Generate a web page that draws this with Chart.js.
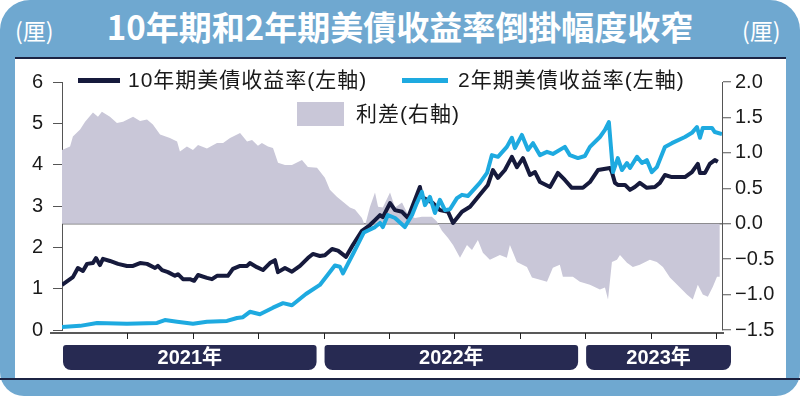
<!DOCTYPE html>
<html>
<head>
<meta charset="utf-8">
<script src="https://cdn.jsdelivr.net/npm/chart.js@4.4.1/dist/chart.umd.min.js"></script>
<style>
  html, body { margin: 0; padding: 0; background: #ffffff; }
  #wrap { position: relative; width: 800px; height: 396px; overflow: hidden; font-family: "Liberation Sans", "Noto Sans CJK TC", sans-serif; }
  #frame { position: absolute; left: 0; top: 0; width: 800px; height: 396px; background: #6fa8d0; border-radius: 30px 30px 24px 24px; }
  #panel { position: absolute; left: 15px; top: 59px; width: 771px; height: 319px; background: #ffffff; }
  #topLine { position: absolute; left: 15px; top: 57px; width: 771px; height: 2px; background: #1c2444; }
  #botLine { position: absolute; left: 0; top: 378px; width: 800px; height: 2px; background: #1c2444; }
  #title { position: absolute; left: 0; top: 6px; width: 800px; text-align: center; color: #fff; font: bold 33px "Noto Sans CJK TC", sans-serif; line-height: 40px; }
  .unit { position: absolute; top: 15px; color: #fff; font: 23px "Noto Sans CJK TC", sans-serif; line-height: 30px; }
  .lgLine { position: absolute; height: 5px; }
  .lgText { position: absolute; font-size: 21px; letter-spacing: 1px; line-height: 24px; color: #1a1a1a; white-space: nowrap; }
  canvas { position: absolute; left: 0; top: 0; }
</style>
</head>
<body>
<div id="wrap">
  <div id="frame"></div>
  <div id="panel"></div>
  <div id="topLine"></div>
  <div id="botLine"></div>
  <div id="title">10年期和2年期美債收益率倒掛幅度收窄</div>
  <div class="unit" style="left:15px">(厘)</div>
  <div class="unit" style="left:742px">(厘)</div>
  <canvas id="chart" width="800" height="396"></canvas>
  <div class="lgLine" style="left:78px; top:78px; width:42px; background:#161a3c"></div>
  <div class="lgText" style="left:128px; top:68px">10年期美債收益率(左軸)</div>
  <div class="lgLine" style="left:402px; top:78px; width:46px; background:#1eaae0"></div>
  <div class="lgText" style="left:458px; top:68px">2年期美債收益率(左軸)</div>
  <div class="lgLine" style="left:297px; top:102px; width:47px; height:24px; background:#c9c7d8"></div>
  <div class="lgText" style="left:356px; top:102px">利差(右軸)</div>
</div>
<script>
/* ============= Data (x = months since Jan 2021) ============= */
var tenYearMonths = [0, 0.5, 0.73, 0.96, 1.15, 1.42, 1.56, 1.74, 1.88, 2.2, 2.57, 2.98, 3.26, 3.58, 3.9, 4.27, 4.4, 4.59, 4.86, 5.18, 5.32, 5.55, 5.87, 6.06, 6.24, 6.65, 6.88, 7.11, 7.61, 7.84, 8.17, 8.49, 8.62, 8.94, 9.22, 9.54, 9.77, 9.91, 10.23, 10.55, 10.92, 11.28, 11.51, 11.83, 12.06, 12.39, 12.66, 13.03, 13.35, 13.76, 14.13, 14.36, 14.59, 14.72, 15.05, 15.28, 15.6, 15.87, 16.42, 16.51, 17.02, 17.34, 17.71, 17.94, 18.35, 18.72, 19.17, 19.54, 19.77, 20.0, 20.32, 20.64, 20.87, 21.15, 21.47, 21.7, 21.93, 22.39, 22.75, 23.07, 23.39, 23.9, 24.22, 24.59, 25.14, 25.23, 25.37, 25.5, 25.83, 26.06, 26.28, 26.51, 26.83, 27.2, 27.43, 27.66, 27.98, 28.58, 28.9, 29.17, 29.27, 29.5, 29.72, 29.95, 30.09];
var tenYearYield = [1.09, 1.28, 1.5, 1.43, 1.6, 1.62, 1.74, 1.57, 1.72, 1.67, 1.6, 1.55, 1.55, 1.62, 1.6, 1.5, 1.55, 1.45, 1.4, 1.31, 1.35, 1.23, 1.23, 1.19, 1.33, 1.26, 1.23, 1.31, 1.31, 1.48, 1.55, 1.55, 1.62, 1.52, 1.45, 1.62, 1.69, 1.4, 1.5, 1.41, 1.55, 1.74, 1.84, 1.79, 1.81, 1.96, 1.92, 1.77, 2.06, 2.4, 2.54, 2.66, 2.78, 2.73, 3.07, 2.9, 2.86, 2.71, 3.46, 3.22, 3.07, 2.9, 2.86, 2.59, 2.86, 2.98, 3.27, 3.51, 3.87, 3.68, 3.87, 4.19, 3.94, 4.16, 3.75, 3.82, 3.58, 3.46, 3.8, 3.63, 3.44, 3.44, 3.58, 3.87, 3.92, 3.82, 3.56, 3.51, 3.51, 3.39, 3.46, 3.56, 3.44, 3.46, 3.56, 3.75, 3.7, 3.7, 3.82, 4.02, 3.8, 3.8, 4.02, 4.11, 4.07];

var twoYearMonths = [0, 0.83, 1.61, 2.98, 4.36, 4.72, 5.28, 6.01, 6.65, 7.57, 8.03, 8.3, 8.62, 9.08, 9.68, 10.14, 10.55, 11.19, 11.83, 12.52, 12.75, 12.89, 13.39, 13.85, 14.36, 14.59, 14.72, 14.95, 15.28, 15.73, 16.06, 16.28, 16.51, 16.65, 16.88, 17.11, 17.34, 17.57, 17.8, 18.12, 18.35, 18.62, 19.17, 19.5, 19.72, 20.0, 20.41, 20.64, 20.78, 21.1, 21.38, 21.61, 21.93, 22.25, 22.52, 23.07, 23.3, 23.67, 23.99, 24.22, 24.68, 24.91, 25.09, 25.28, 25.5, 25.69, 25.92, 26.06, 26.38, 26.61, 26.83, 27.06, 27.29, 27.66, 27.98, 28.58, 28.9, 29.13, 29.27, 29.4, 29.82, 29.95, 30.28];
var twoYearYield = [0.07, 0.1, 0.17, 0.15, 0.17, 0.24, 0.2, 0.15, 0.2, 0.22, 0.29, 0.31, 0.44, 0.38, 0.54, 0.65, 0.6, 0.87, 1.09, 1.56, 1.53, 1.37, 1.88, 2.36, 2.49, 2.59, 2.49, 2.78, 2.71, 2.49, 2.78, 3.07, 3.34, 3.02, 3.22, 2.83, 3.15, 2.9, 2.92, 3.19, 3.27, 3.24, 3.56, 3.8, 4.23, 4.19, 4.43, 4.65, 4.4, 4.72, 4.36, 4.52, 4.23, 4.31, 4.26, 4.43, 4.23, 4.16, 4.21, 4.43, 4.67, 4.84, 5.03, 3.82, 4.16, 3.87, 4.04, 3.92, 4.19, 4.04, 4.11, 3.82, 3.94, 4.43, 4.52, 4.67, 4.77, 4.91, 4.65, 4.89, 4.89, 4.79, 4.74];

var spreadMonths = [0, 0.37, 0.5, 0.83, 1.06, 1.42, 1.65, 1.83, 2.2, 2.52, 2.8, 3.26, 3.58, 3.9, 4.17, 4.5, 4.95, 5.28, 5.41, 5.73, 6.01, 6.24, 6.65, 7.11, 7.39, 7.71, 8.17, 8.49, 8.72, 8.99, 9.17, 9.45, 9.68, 9.91, 10.23, 10.55, 11.01, 11.28, 11.7, 12.06, 12.29, 12.61, 12.89, 13.21, 13.44, 13.76, 13.9, 14.13, 14.36, 14.5, 14.72, 15.05, 15.28, 15.6, 15.87, 16.19, 16.51, 16.97, 17.2, 17.43, 17.71, 17.94, 18.26, 18.58, 18.81, 19.08, 19.31, 19.63, 20.09, 20.41, 20.55, 20.87, 21.33, 21.56, 21.93, 22.25, 22.52, 22.84, 22.98, 23.44, 23.76, 24.22, 24.68, 24.91, 25.05, 25.23, 25.46, 25.6, 25.92, 26.19, 26.51, 26.97, 27.29, 27.57, 27.89, 28.35, 28.67, 28.94, 29.17, 29.4, 29.63, 29.86, 30.05, 30.18];
var spreadValues = [1.04, 1.09, 1.23, 1.33, 1.44, 1.57, 1.51, 1.58, 1.51, 1.42, 1.44, 1.51, 1.45, 1.47, 1.4, 1.26, 1.21, 1.16, 1.02, 1.09, 1.04, 1.11, 1.06, 1.14, 1.14, 1.21, 1.28, 1.16, 1.18, 1.1, 1.14, 1.09, 1.07, 0.86, 0.83, 0.83, 0.9, 0.8, 0.79, 0.65, 0.48, 0.38, 0.31, 0.23, 0.2, 0.08, -0.03, 0.24, 0.44, 0.24, 0.23, 0.44, 0.23, 0.3, 0.13, 0.08, 0.1, 0.1, 0.03, -0.1, -0.2, -0.3, -0.48, -0.3, -0.37, -0.23, -0.41, -0.51, -0.44, -0.48, -0.3, -0.54, -0.61, -0.76, -0.79, -0.82, -0.62, -0.58, -0.75, -0.75, -0.82, -0.86, -0.93, -0.9, -1.07, -0.54, -0.51, -0.44, -0.55, -0.61, -0.58, -0.51, -0.54, -0.61, -0.76, -0.9, -1.0, -1.07, -0.86, -1.0, -1.03, -0.89, -0.75, -0.75];

var quarterTicks = [3, 6, 9, 12, 15, 18, 21, 24, 27, 30];
var yearLabels = ['2021年', '2022年', '2023年'];
var yearStarts = [0, 12, 24];
var xEnd = 30.28;

/* ============= Helpers ============= */
function toPoints(xs, ys) {
  var pts = [];
  for (var i = 0; i < xs.length; i++) {
    pts.push({ x: xs[i], y: ys[i] });
  }
  return pts;
}

function fmtRight(v) {
  var s = Math.abs(v).toFixed(1);
  return v < 0 ? '\u2212' + s : s;
}

// bottom axis line, quarter ticks and the year boxes
var bottomBand = {
  id: 'bottomBand',
  afterDraw: function (chart) {
    var ctx = chart.ctx;
    var xs = chart.scales.x;
    var base = chart.chartArea.bottom + 3;
    ctx.save();
    ctx.strokeStyle = '#222';
    ctx.lineWidth = 1.5;
    ctx.beginPath();
    ctx.moveTo(50, base);
    ctx.lineTo(chart.chartArea.right + 2, base);
    ctx.stroke();
    ctx.lineWidth = 1;
    for (var i = 0; i < quarterTicks.length; i++) {
      var px = Math.round(xs.getPixelForValue(quarterTicks[i])) + 0.5;
      ctx.beginPath();
      ctx.moveTo(px, base);
      ctx.lineTo(px, base + 6);
      ctx.stroke();
    }
    for (var j = 0; j < yearLabels.length; j++) {
      var left = xs.getPixelForValue(yearStarts[j]) + 1;
      var right = j < yearLabels.length - 1 ? xs.getPixelForValue(yearStarts[j + 1]) - 7 : chart.chartArea.right + 9;
      var top = base + 12, h = 25;
      ctx.fillStyle = '#272a52';
      ctx.beginPath();
      ctx.roundRect(left, top, right - left, h, [3, 3, 8, 8]);
      ctx.fill();
      ctx.fillStyle = '#ffffff';
      ctx.font = 'bold 20px "Liberation Sans", "Noto Sans CJK TC", sans-serif';
      ctx.textAlign = 'center';
      ctx.textBaseline = 'middle';
      ctx.fillText(yearLabels[j], (left + right) / 2, top + h / 2 + 1);
    }
    ctx.restore();
  }
};

/* ============= Chart ============= */
var tickFont = { family: '"Liberation Sans", sans-serif', size: 20 };

var chart = new Chart(document.getElementById('chart').getContext('2d'), {
  type: 'line',
  data: {
    datasets: [
      {
        label: '2年期美債收益率(左軸)',
        data: toPoints(twoYearMonths, twoYearYield),
        borderColor: '#1eaae0',
        borderWidth: 4,
        pointRadius: 0,
        borderJoinStyle: 'round',
        tension: 0,
        fill: false,
        yAxisID: 'y'
      },
      {
        label: '10年期美債收益率(左軸)',
        data: toPoints(tenYearMonths, tenYearYield),
        borderColor: '#161a3c',
        borderWidth: 4,
        pointRadius: 0,
        borderJoinStyle: 'round',
        tension: 0,
        fill: false,
        yAxisID: 'y'
      },
      {
        label: '利差(右軸)',
        data: toPoints(spreadMonths, spreadValues),
        borderWidth: 0,
        borderColor: 'rgba(0,0,0,0)',
        backgroundColor: '#c9c7d8',
        pointRadius: 0,
        tension: 0,
        fill: 'origin',
        yAxisID: 'y2'
      }
    ]
  },
  options: {
    responsive: false,
    animation: false,
    events: [],
    layout: { padding: { left: 0, right: 0, top: 82, bottom: 66 } },
    plugins: { legend: { display: false }, tooltip: { enabled: false } },
    scales: {
      x: {
        type: 'linear',
        display: false,
        min: 0,
        max: xEnd
      },
      y: {
        position: 'left',
        min: 0,
        max: 6,
        ticks: { stepSize: 1, color: '#1a1a1a', font: tickFont, padding: 10 },
        grid: { drawOnChartArea: false, tickLength: 9, tickColor: '#555', tickWidth: 1 },
        border: { display: true, color: '#555', width: 1 },
        afterFit: function (s) { s.width = 62; }
      },
      y2: {
        position: 'right',
        min: -1.5,
        max: 2.0,
        ticks: { stepSize: 0.5, color: '#1a1a1a', font: tickFont, padding: 4, callback: function (v) { return fmtRight(v); } },
        grid: {
          drawOnChartArea: true,
          color: function (c) { return c.tick && c.tick.value === 0 ? '#777' : 'rgba(0,0,0,0)'; },
          lineWidth: 1.5,
          tickLength: 9,
          tickColor: '#555',
          tickWidth: 1
        },
        border: { display: true, color: '#555', width: 1 },
        afterFit: function (s) { s.width = 78; }
      }
    }
  },
  plugins: [bottomBand]
});
</script>
</body>
</html>
